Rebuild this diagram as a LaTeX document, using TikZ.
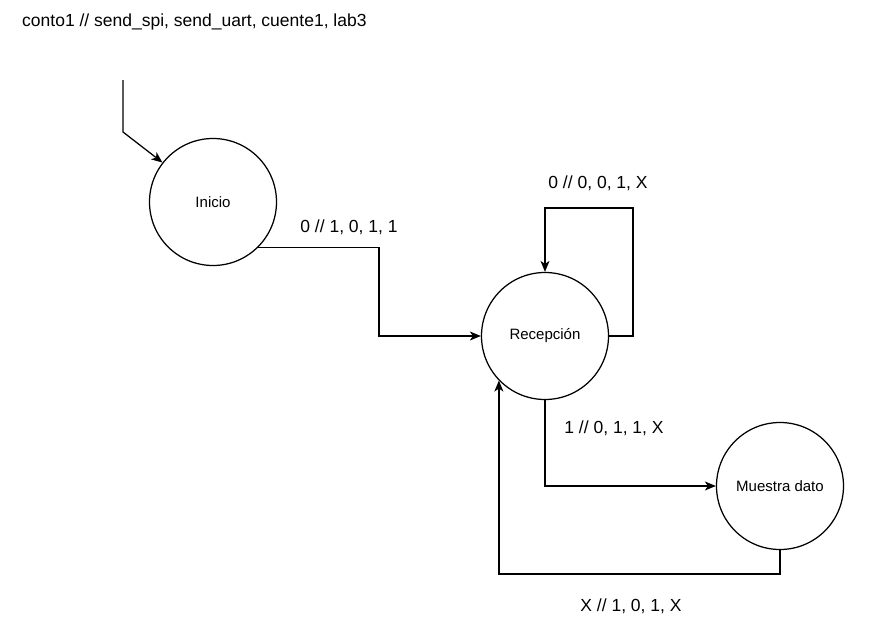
\documentclass[tikz,border=0pt]{standalone}
\usepackage{fontspec}
\setmainfont{Liberation Sans}
\usetikzlibrary{arrows.meta}
\begin{document}
\begin{tikzpicture}[x=1pt,y=-1pt,
  state/.style={circle,draw,line width=1.25pt,minimum size=127pt,inner sep=0pt,font=\fontsize{15}{18}\selectfont},
  lbl/.style={font=\fontsize{17.5}{21}\selectfont,inner sep=0pt},
  edge/.style={line width=1.25pt,-{Stealth[length=11pt,width=9pt,inset=3pt]}}]
\useasboundingbox[fill=white] (0,0) rectangle (895,632);
\node[lbl,anchor=west] (title) at (22,22) {conto1 // send\_spi, send\_uart, cuente1, lab3};
\node[state] (ini) at (213,202) {Inicio};
\node[state] (rec) at (545,336) {Recepción};
\node[state] (mue) at (780,486) {Muestra dato};
\coordinate (start) at (123,80);
\draw[edge] (start) -- (123,132) -- (ini.142);
\draw[edge] (ini.-45) -| (379,291) |- (rec.west);
\draw[edge] (rec.east) -| (633,270) |- (545,208) -- (rec.north);
\draw[edge] (rec.south) |- (mue.west);
\draw[edge] (mue.south) -- (780,574) -| (rec.-136);
\node[lbl] (l1) at (349,227) {0 // 1, 0, 1, 1};
\node[lbl] (l2) at (598,183) {0 // 0, 0, 1, X};
\node[lbl] (l3) at (614,428) {1 // 0, 1, 1, X};
\node[lbl] (l4) at (631,606) {X // 1, 0, 1, X};
\end{tikzpicture}
\end{document}
